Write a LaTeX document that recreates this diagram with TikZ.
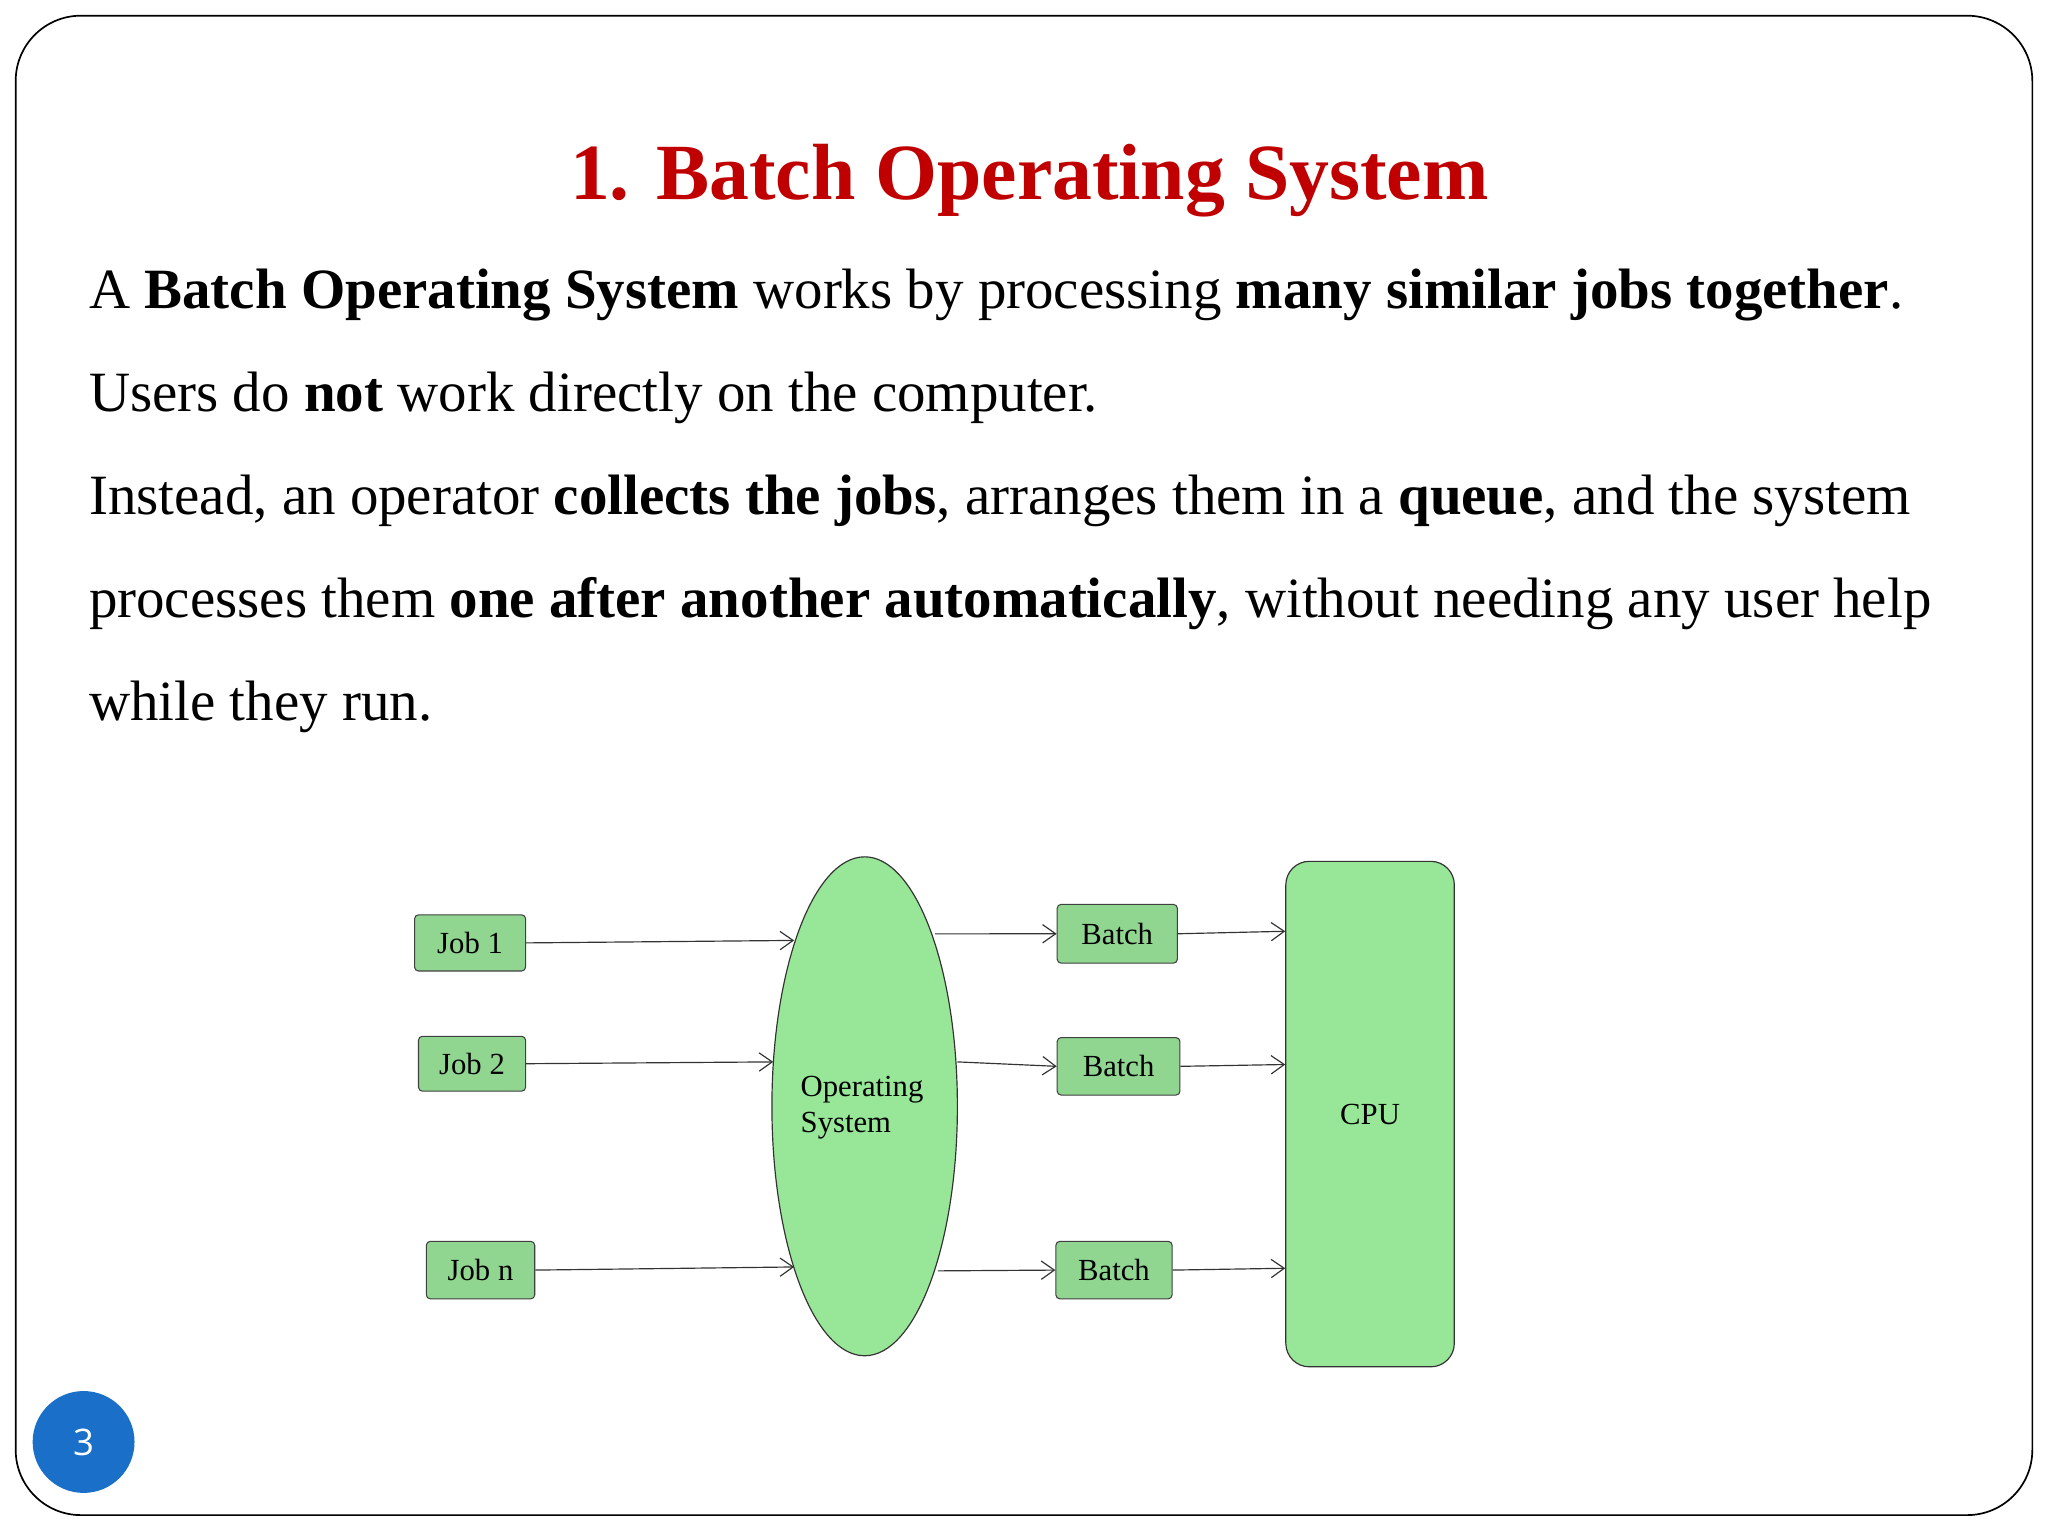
\documentclass[tikz,border=0pt]{standalone}
\usepackage{fontspec}
\setmainfont{Liberation Serif}
\newfontfamily\numfont{Open Sans}
\usetikzlibrary{arrows.meta}
\definecolor{titlered}{HTML}{C00000}
\definecolor{lgreen}{HTML}{98E698}
\definecolor{bgreen}{HTML}{90D690}
\definecolor{pblue}{HTML}{1A6FC9}
\tikzset{
 jobbox/.style={draw=black!75,fill=bgreen,rounded corners=3pt,line width=0.8pt,anchor=north west,inner sep=0pt,font=\fontsize{23.5}{25}\selectfont},
 conn/.style={draw=black!80,line width=0.9pt,-{Straight Barb[length=10pt,width=14pt,line width=0.9pt]}},
 body/.style={anchor=base west,inner sep=0pt,font=\fontsize{43.6}{48}\selectfont}
}
\begin{document}
\begin{tikzpicture}[x=1pt,y=-1pt]
\useasboundingbox (0,0) rectangle (1568,1176);
\fill[white] (0,0) rectangle (1568,1176);
\draw[line width=1.3pt,rounded corners=50pt] (12,12) rectangle (1556,1160);
\node[font=\fontsize{61}{70}\selectfont\bfseries,text=titlered] (title) at (788,138) {1. Batch Operating System};
\node[body] (l1) at (68,236) {A \textbf{Batch Operating System} works by processing \textbf{many similar jobs together}.};
\node[body] (l2) at (68,315) {Users do \textbf{not} work directly on the computer.};
\node[body] (l3) at (68,394) {Instead, an operator \textbf{collects the jobs}, arranges them in a \textbf{queue}, and the system};
\node[body] (l4) at (68,473) {processes them \textbf{one after another automatically}, without needing any user help};
\node[body] (l5) at (68,552) {while they run.};
% diagram
\node[jobbox,minimum width=85pt,minimum height=43pt] (j1) at (317,700) {Job 1};
\node[jobbox,minimum width=82pt,minimum height=42pt] (j2) at (320,793) {Job 2};
\node[jobbox,minimum width=83pt,minimum height=44pt] (jn) at (326,950) {Job n};
\draw[draw=black!80,fill=lgreen,line width=0.9pt] (662,847) ellipse [x radius=71, y radius=191];
\node[font=\fontsize{23.5}{28}\selectfont,align=left] (os) at (660,848) {Operating\\System};
\node[jobbox,minimum width=92pt,minimum height=45pt] (b1) at (809,692) {Batch\hspace{14pt}};
\node[jobbox,minimum width=94pt,minimum height=44pt] (b2) at (809,794) {Batch\hspace{14pt}};
\node[jobbox,minimum width=89pt,minimum height=44pt] (b3) at (808,950) {Batch\hspace{10pt}};
\node[draw=black!80,fill=lgreen,rounded corners=18pt,line width=0.9pt,minimum width=129pt,minimum height=387pt,anchor=north west,font=\fontsize{23.5}{25}\selectfont] (cpu) at (984,659) {CPU};
\coordinate (e1) at (608,720); \coordinate (e2) at (592,813); \coordinate (e3) at (608,970);
\coordinate (o1) at (716,715); \coordinate (o2) at (733,813); \coordinate (o3) at (718,973);
\draw[conn] (j1.east) -- (e1);
\draw[conn] (j2.east) -- (e2);
\draw[conn] (jn.east) -- (e3);
\draw[conn] (o1) -- (b1.west);
\draw[conn] (o2) -- (b2.west);
\draw[conn] (o3) -- (b3.west);
\draw[conn] (b1.east) -- (984,713);
\draw[conn] (b2.east) -- (984,815);
\draw[conn] (b3.east) -- (984,971);
\node[circle,fill=pblue,minimum size=78pt,text=white,font=\numfont\fontsize{28}{30}\selectfont] (pg) at (64,1104) {3};
\end{tikzpicture}
\end{document}
